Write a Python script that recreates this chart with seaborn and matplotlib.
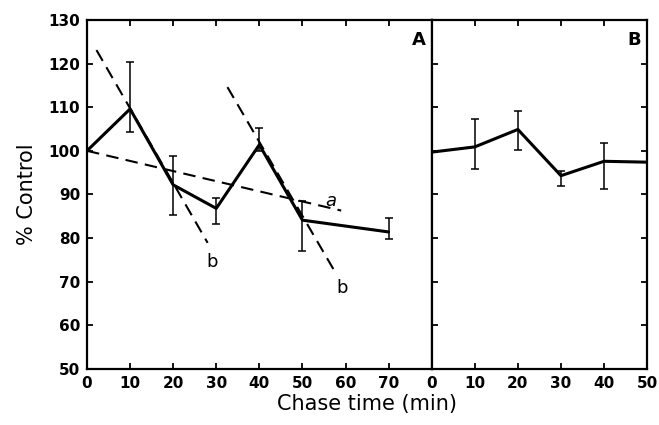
import numpy as np
import matplotlib
matplotlib.use("Agg")
import matplotlib.pyplot as plt
import seaborn as sns

# --- DATA ---
time_a = [0, 10, 20, 30, 40, 50, 70]
ctrl_a = [100, 109.6, 92.2, 86.8, 101.4, 84.1, 81.4]
err_lo_a = [np.nan, 104.4, 85.3, 83.2, 100.0, 77.0, 79.8]
err_hi_a = [np.nan, 120.3, 98.8, 89.1, 105.3, 88.5, 84.6]

time_b = [0, 10, 20, 30, 40, 50]
ctrl_b = [99.7, 100.9, 104.9, 94.3, 97.6, 97.4]
err_lo_b = [np.nan, 95.8, 100.3, 92.0, 91.2, np.nan]
err_hi_b = [np.nan, 107.3, 109.2, 95.4, 101.7, np.nan]

# fitted dashed lines in panel A
fit_a_x = [0, 59]
fit_a_y = [100, 86.3]
fit_b1_x = [2.2, 28]
fit_b1_y = [123.1, 78.9]
fit_b2_x = [32.6, 58]
fit_b2_y = [114.6, 71.5]

x_ticks_a = [0, 10, 20, 30, 40, 50, 60, 70]
x_ticks_b = [0, 10, 20, 30, 40, 50]
y_ticks = [50, 60, 70, 80, 90, 100, 110, 120, 130]


def err(vals, lo, hi):
    v = np.array(vals)
    return [v - np.array(lo), np.array(hi) - v]


def generate_graph():
    sns.set_style("ticks")
    plt.rcParams['font.family'] = ['DejaVu Sans']
    for key in ('text.color', 'axes.labelcolor', 'xtick.color', 'ytick.color'):
        plt.rcParams[key] = 'black'

    fig = plt.figure(figsize=(6.59, 4.25), dpi=100)
    left, right, bottom, top = 0.132, 0.982, 0.132, 0.953
    w_total = right - left
    w_a = w_total * 80 / 130
    w_b = w_total * 50 / 130
    ax1 = fig.add_axes([left, bottom, w_a, top - bottom])
    ax2 = fig.add_axes([left + w_a, bottom, w_b, top - bottom])

    dash = (0, (6, 3.5))

    # --- Panel A ---
    sns.lineplot(x=time_a, y=ctrl_a, ax=ax1, color='black', linewidth=2.2)
    ax1.errorbar(time_a, ctrl_a, yerr=err(ctrl_a, err_lo_a, err_hi_a), fmt='none',
                 ecolor='black', elinewidth=1.1, capsize=3.2, capthick=1.1)
    for fx, fy in [(fit_a_x, fit_a_y), (fit_b1_x, fit_b1_y), (fit_b2_x, fit_b2_y)]:
        sns.lineplot(x=fx, y=fy, ax=ax1, color='black', linewidth=1.5, linestyle=dash)
    ax1.text(56.5, 88.6, 'a', fontsize=13, style='italic', ha='center', va='center')
    ax1.text(29.0, 74.6, 'b', fontsize=13, ha='center', va='center')
    ax1.text(59.3, 68.6, 'b', fontsize=13, ha='center', va='center')
    ax1.text(77, 125.5, 'A', fontsize=13, fontweight='bold', ha='center', va='center')

    ax1.set_xlim(0, 80)
    ax1.set_xticks(x_ticks_a)
    ax1.tick_params(axis='both', direction='in', length=4, width=1.3, pad=5,
                    labelsize=11, top=True, right=False)
    ax1.set_ylabel("% Control", fontsize=15, labelpad=8)

    # --- Panel B ---
    sns.lineplot(x=time_b, y=ctrl_b, ax=ax2, color='black', linewidth=2.2)
    ax2.errorbar(time_b, ctrl_b, yerr=err(ctrl_b, err_lo_b, err_hi_b), fmt='none',
                 ecolor='black', elinewidth=1.1, capsize=3.2, capthick=1.1)
    ax2.text(47, 125.5, 'B', fontsize=13, fontweight='bold', ha='center', va='center')
    ax2.set_xlim(0, 50)
    ax2.set_xticks(x_ticks_b)
    ax2.tick_params(axis='both', direction='in', length=4, width=1.3, pad=5,
                    labelsize=11, top=True, right=True, labelleft=False)

    for ax in (ax1, ax2):
        ax.set_ylim(50, 130)
        ax.set_yticks(y_ticks)
        ax.set_xlabel("")
        for lab in ax.get_xticklabels() + ax.get_yticklabels():
            lab.set_fontweight('bold')
        for sp in ax.spines.values():
            sp.set_visible(True)
            sp.set_linewidth(1.6)
            sp.set_color('black')
    ax2.set_ylabel("")

    fig.text((left + right) / 2, 0.025, "Chase time (min)", fontsize=15, ha='center', va='bottom')

    plt.savefig("out.png", dpi=100)


if __name__ == "__main__":
    generate_graph()
